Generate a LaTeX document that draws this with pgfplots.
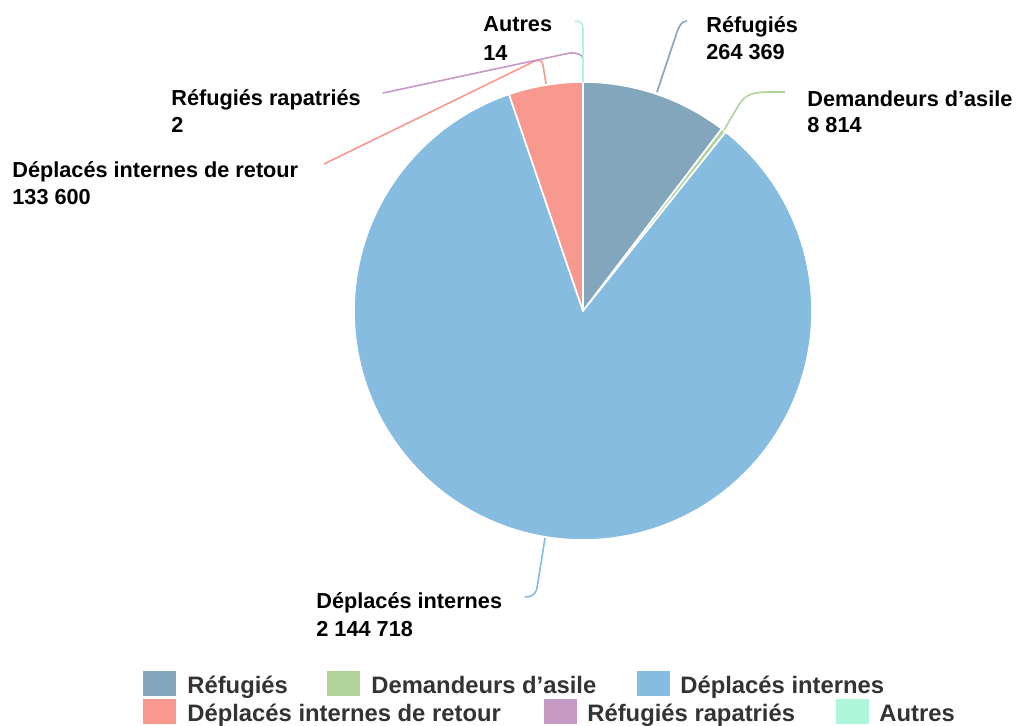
\documentclass[border=0pt]{standalone}
\usepackage{pgfplots}
\pgfplotsset{compat=1.18}
\usepackage{pgfplotstable}
\usepackage{fontspec}
\setmainfont{Liberation Sans}
\definecolor{cA}{HTML}{84A6BD}
\definecolor{cB}{HTML}{B0D39B}
\definecolor{cC}{HTML}{85BCE0}
\definecolor{cD}{HTML}{F8998F}
\definecolor{cE}{HTML}{C499C4}
\definecolor{cF}{HTML}{ADF6DA}
\definecolor{legtext}{HTML}{333333}

\pgfplotstableread[col sep=comma]{
name,value
Réfugiés,264369
Demandeurs d’asile,8814
Déplacés internes,2144718
Déplacés internes de retour,133600
Réfugiés rapatriés,2
Autres,14
}\piedata

\pgfplotstablegetelem{0}{value}\of\piedata \edef\vA{\pgfplotsretval}
\pgfplotstablegetelem{1}{value}\of\piedata \edef\vB{\pgfplotsretval}
\pgfplotstablegetelem{2}{value}\of\piedata \edef\vC{\pgfplotsretval}
\pgfplotstablegetelem{3}{value}\of\piedata \edef\vD{\pgfplotsretval}
\pgfplotstablegetelem{4}{value}\of\piedata \edef\vE{\pgfplotsretval}
\pgfplotstablegetelem{5}{value}\of\piedata \edef\vF{\pgfplotsretval}
\edef\total{\fpeval{\vA+\vB+\vC+\vD+\vE+\vF}}
\edef\aA{90}
\edef\aB{\fpeval{\aA-360*\vA/\total}}
\edef\aC{\fpeval{\aB-360*\vB/\total}}
\edef\aD{\fpeval{\aC-360*\vC/\total}}
\edef\aE{\fpeval{\aD-360*\vD/\total}}
\edef\aF{\fpeval{\aE-360*\vE/\total}}
\edef\aG{\fpeval{\aF-360*\vF/\total}}

\newcommand\slice[3]{%
  \fill[#1, draw=white, line width=0.8pt, line join=round]
    (axis cs:583,-311) -- ++(#2:114.5pt) arc[start angle=#2, end angle=#3, radius=114.5pt] -- cycle;}

\begin{document}
\begin{tikzpicture}
\begin{axis}[name=ax, scale only axis, width=508.5pt, height=362.5pt,
  xmin=0, xmax=1017, ymin=-725, ymax=0, hide axis, clip=false]
\pgfplotsextra{
  \slice{cA}{\aA}{\aB}
  \slice{cB}{\aB}{\aC}
  \slice{cC}{\aC}{\aD}
  \slice{cD}{\aD}{\aE}
  \slice{cE}{\aE}{\aF}
  \slice{cF}{\aF}{\aG}
  % leader lines
  \draw[cA, line width=0.8pt] (axis cs:657,-92) -- (axis cs:675,-38) .. controls (axis cs:679,-25) and (axis cs:682,-21) .. (axis cs:687,-21);
  \draw[cB, line width=0.8pt] (axis cs:724,-130) -- (axis cs:740,-103) .. controls (axis cs:748,-91) and (axis cs:760,-92) .. (axis cs:785,-92);
  \draw[cC, line width=0.8pt] (axis cs:545,-538) -- (axis cs:537,-588) .. controls (axis cs:535,-596) and (axis cs:530,-597) .. (axis cs:525,-597);
  \draw[cD, line width=0.8pt] (axis cs:546,-84) -- (axis cs:543,-65) .. controls (axis cs:542,-60) and (axis cs:540,-60) .. (axis cs:535,-61) -- (axis cs:324,-164);
  \draw[cE, line width=0.8pt] (axis cs:583,-82) -- (axis cs:583,-60) .. controls (axis cs:583,-54) and (axis cs:578,-53) .. (axis cs:570,-53) -- (axis cs:383,-93);
  \draw[cF, line width=0.8pt] (axis cs:583,-82) -- (axis cs:583,-30) .. controls (axis cs:583,-22) and (axis cs:580,-21) .. (axis cs:575,-21);
  % data labels
  \tikzset{lab/.style={anchor=base west, inner sep=0pt, font=\fontsize{10.85}{13}\selectfont\bfseries}}
  \node[lab] at (axis cs:706,-33) {Réfugiés};
  \node[lab] at (axis cs:706,-59) {264 369};
  \node[lab] at (axis cs:807,-106) {Demandeurs d’asile};
  \node[lab] at (axis cs:807,-132) {8 814};
  \node[lab] at (axis cs:316,-608) {Déplacés internes};
  \node[lab] at (axis cs:316,-636) {2 144 718};
  \node[lab] at (axis cs:12,-177) {Déplacés internes de retour};
  \node[lab] at (axis cs:12,-204) {133 600};
  \node[lab] at (axis cs:171,-105) {Réfugiés rapatriés};
  \node[lab] at (axis cs:171,-132) {2};
  \node[lab] at (axis cs:483,-32) {Autres};
  \node[lab] at (axis cs:483,-60) {14};
  % legend
  \tikzset{leg/.style={anchor=base west, inner sep=0pt, text=legtext, font=\fontsize{11.9}{14}\selectfont\bfseries}}
  \fill[cA] (axis cs:143,-671) rectangle (axis cs:176,-696);
  \node[leg] at (axis cs:187,-693) {Réfugiés};
  \fill[cB] (axis cs:327,-671) rectangle (axis cs:360,-696);
  \node[leg] at (axis cs:371,-693) {Demandeurs d’asile};
  \fill[cC] (axis cs:637,-671) rectangle (axis cs:670,-696);
  \node[leg] at (axis cs:680,-693) {Déplacés internes};
  \fill[cD] (axis cs:143,-699) rectangle (axis cs:176,-724);
  \node[leg] at (axis cs:187,-721) {Déplacés internes de retour};
  \fill[cE] (axis cs:544,-699) rectangle (axis cs:577,-724);
  \node[leg] at (axis cs:587,-721) {Réfugiés rapatriés};
  \fill[cF] (axis cs:836,-699) rectangle (axis cs:869,-724);
  \node[leg] at (axis cs:879,-721) {Autres};
}
\end{axis}
\pgfresetboundingbox
\path (ax.south west) rectangle (ax.north east);
\end{tikzpicture}
\end{document}
